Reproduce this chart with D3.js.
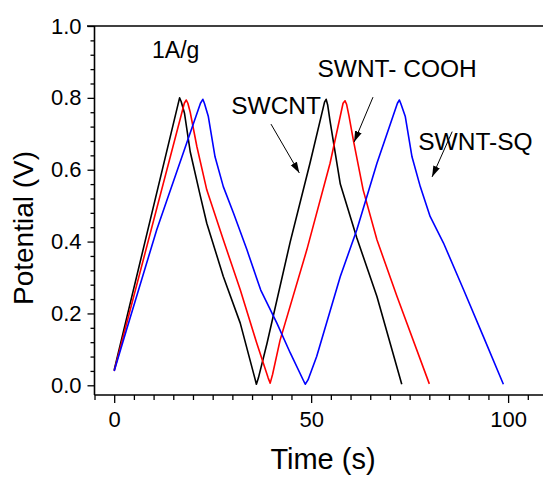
<!DOCTYPE html>
<html>
<head>
<meta charset="utf-8">
<script src="https://cdn.jsdelivr.net/npm/d3@7"></script>
<style>
  html, body { margin: 0; padding: 0; background: #fff; }
  svg { display: block; font-family: "Liberation Sans", Arial, sans-serif; }
</style>
</head>
<body>
<svg id="chart" width="543" height="477"></svg>
<script>
// charge / discharge curves
const swcntTime = [0, 16.6, 17.0, 17.85, 19.3, 21.8, 23.5, 27.7, 32.0, 35.7, 36.1, 36.6, 38.8, 44.7, 49.7, 53.4, 53.8, 54.2, 54.8, 57.4, 61.6, 66.7, 73.0]
const swcntV    = [0.043, 0.800, 0.790, 0.757, 0.650, 0.530, 0.451, 0.303, 0.173, 0.02, 0.003, 0.02, 0.117, 0.400, 0.618, 0.788, 0.796, 0.780, 0.735, 0.560, 0.410, 0.247, 0.003]

const coohTime = [0, 17.8, 18.3, 18.7, 19.3, 21.0, 23.5, 27.7, 32.0, 36.2, 39.1, 39.6, 40.2, 42.1, 48.9, 54.8, 58.1, 58.6, 59.0, 59.6, 60.7, 63.2, 66.7, 71.8, 80.0]
const coohV    = [0.04, 0.785, 0.794, 0.785, 0.760, 0.664, 0.544, 0.405, 0.266, 0.117, 0.02, 0.006, 0.03, 0.125, 0.377, 0.618, 0.785, 0.792, 0.782, 0.750, 0.683, 0.544, 0.405, 0.247, 0.004]

const sqTime = [0, 3, 10.8, 13.4, 21.9, 22.5, 22.9, 23.9, 25.6, 27.7, 30.3, 33.7, 36.6, 37.2, 41.3, 44.7, 48.1, 48.5, 49.2, 51.4, 57.4, 61.6, 66.7, 71.9, 72.4, 72.8, 73.9, 75.6, 77.7, 80.2, 83.6, 88.7, 93.7, 98.8]
const sqV    = [0.04, 0.15, 0.433, 0.516, 0.785, 0.796, 0.785, 0.748, 0.636, 0.553, 0.479, 0.377, 0.284, 0.265, 0.173, 0.090, 0.012, 0.003, 0.015, 0.080, 0.303, 0.433, 0.618, 0.785, 0.794, 0.783, 0.748, 0.636, 0.553, 0.470, 0.396, 0.266, 0.136, 0.003]

const seriesNames = ['SWCNT', 'SWNT- COOH', 'SWNT-SQ']
const seriesColors = ['#000000', '#ff0000', '#0000ff']

const xMajorTicks = [0, 50, 100]
const yMajorTicks = [0, 0.2, 0.4, 0.6, 0.8, 1.0]

// label anchors [time, potential] and arrows [from, to], in data units
const labelPos = [[29.7, 0.755], [51.6, 0.859], [77.2, 0.655]]
const arrowPos = [
	[[39.8, 0.727], [47.0, 0.591]],
	[[65.7, 0.802], [60.9, 0.677]],
	[[85.8, 0.706], [80.7, 0.580]]
]
const rateLabel = '1A/g'
const ratePos = [9.6, 0.911]

const svg = d3.select('#chart')

const x = d3.scaleLinear().domain([-5, 110]).range([94.5, 547.5])
const y = d3.scaleLinear().domain([-0.027, 1.0]).range([395, 26])

const series = [
	{ t: swcntTime, v: swcntV },
	{ t: coohTime, v: coohV },
	{ t: sqTime, v: sqV }
].map((s, i) => ({
	name: seriesNames[i],
	color: seriesColors[i],
	points: s.t.map((t, j) => [t, s.v[j]])
}))

// minor ticks first
const xMinor = d3.range(-5, 110, 5).filter(d => !xMajorTicks.includes(d))
const yMinor = d3.range(0, 1.0001, 0.04).map(d => +d.toFixed(2)).filter(d => !yMajorTicks.some(m => Math.abs(m - d) < 1e-6))

svg.append('g')
	.attr('transform', 'translate(0,395)')
	.call(d3.axisBottom(x).tickValues(xMinor).tickSize(5).tickFormat(''))
svg.append('g')
	.attr('transform', 'translate(94.5,0)')
	.call(d3.axisLeft(y).tickValues(yMinor).tickSize(4).tickFormat(''))

svg.append('g')
	.attr('transform', 'translate(0,395)')
	.call(d3.axisBottom(x).tickValues(xMajorTicks).tickSize(8).tickPadding(8).tickFormat(d3.format('d')))
svg.append('g')
	.attr('transform', 'translate(94.5,0)')
	.call(d3.axisLeft(y).tickValues(yMajorTicks).tickSize(7).tickPadding(6).tickFormat(d3.format('.1f')))

svg.selectAll('.domain').remove()
svg.selectAll('.tick line').attr('stroke', '#000').attr('stroke-width', 1.3)
svg.selectAll('.tick text')
	.attr('fill', '#000')
	.style('font-size', '22px')
	.style('font-family', '"Liberation Sans", Arial, sans-serif')

// frame lines (left, bottom, top); right side is cut off in the original
svg.append('line').attr('x1', 94.5).attr('x2', 94.5).attr('y1', 26).attr('y2', 395)
	.attr('stroke', '#000').attr('stroke-width', 1.6)
svg.append('line').attr('x1', 94.5).attr('x2', 543).attr('y1', 395).attr('y2', 395)
	.attr('stroke', '#000').attr('stroke-width', 1.6)
svg.append('line').attr('x1', 87).attr('x2', 543).attr('y1', 26).attr('y2', 26)
	.attr('stroke', '#000').attr('stroke-width', 1.6)

const line = d3.line()
	.x(d => x(d[0]))
	.y(d => y(d[1]))

svg.selectAll('.curve')
	.data(series)
	.join('path')
	.attr('class', 'curve')
	.attr('d', d => line(d.points))
	.attr('fill', 'none')
	.attr('stroke', d => d.color)
	.attr('stroke-width', 1.6)
	.attr('stroke-linejoin', 'round')

// annotations
svg.append('defs').append('marker')
	.attr('id', 'arrow')
	.attr('viewBox', '0 0 10 10')
	.attr('refX', 10).attr('refY', 5)
	.attr('markerWidth', 11).attr('markerHeight', 11)
	.attr('markerUnits', 'userSpaceOnUse')
	.attr('orient', 'auto')
	.append('path')
	.attr('d', 'M0,1.8 L10,5 L0,8.2 Z')
	.attr('fill', '#000')

svg.selectAll('.arrow')
	.data(arrowPos)
	.join('line')
	.attr('class', 'arrow')
	.attr('x1', d => x(d[0][0])).attr('y1', d => y(d[0][1]))
	.attr('x2', d => x(d[1][0])).attr('y2', d => y(d[1][1]))
	.attr('stroke', '#000')
	.attr('stroke-width', 1)
	.attr('marker-end', 'url(#arrow)')

svg.selectAll('.series-label')
	.data(series)
	.join('text')
	.attr('class', 'series-label')
	.attr('x', (d, i) => x(labelPos[i][0]))
	.attr('y', (d, i) => y(labelPos[i][1]))
	.style('font-size', '24.5px')
	.text(d => d.name)

svg.append('text')
	.attr('x', x(ratePos[0]))
	.attr('y', y(ratePos[1]))
	.style('font-size', '23px')
	.text(rateLabel)

// axis titles
svg.append('text')
	.attr('x', 323)
	.attr('y', 469)
	.attr('text-anchor', 'middle')
	.style('font-size', '29px')
	.text('Time (s)')

svg.append('text')
	.attr('transform', 'translate(33,228) rotate(-90)')
	.attr('text-anchor', 'middle')
	.style('font-size', '28px')
	.text('Potential (V)')
</script>
</body>
</html>
